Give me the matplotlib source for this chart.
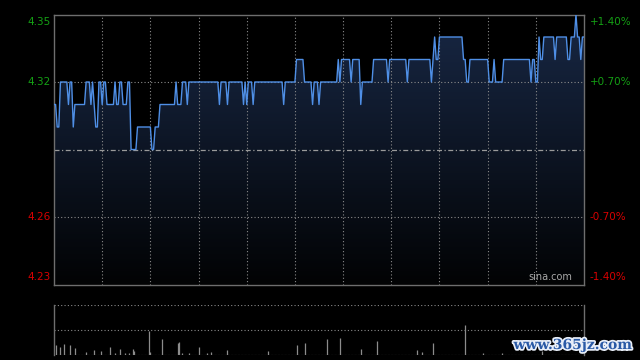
import numpy as np
import matplotlib
matplotlib.use("Agg")
import matplotlib.pyplot as plt
import matplotlib.patheffects as pe
from matplotlib.patches import Polygon

# %% data (minute index of each price change, price)
prev_close = 4.29
run_start = [
    0, 2, 4, 9, 10, 12, 13, 20, 23, 24, 25, 26, 28, 30, 31, 33, 38, 39, 41, 43,
    46, 48, 52, 61, 63, 66, 76, 77, 80, 83, 84, 103, 104, 108, 109, 118, 119,
    120, 121, 124, 125, 143, 144, 151, 156, 161, 162, 165, 166, 177, 178, 179,
    185, 186, 191, 192, 199, 208, 209, 220, 221, 235, 236, 237, 238, 240, 255,
    257, 259, 271, 274, 275, 280, 297, 298, 300, 302, 303, 305, 312, 313, 320,
    322, 325, 326, 328, 329,
]
run_price = [
    4.31, 4.30, 4.32, 4.31, 4.32, 4.30, 4.31, 4.32, 4.31, 4.32, 4.31, 4.30,
    4.32, 4.31, 4.32, 4.31, 4.32, 4.31, 4.32, 4.31, 4.32, 4.29, 4.30, 4.29,
    4.30, 4.31, 4.32, 4.31, 4.32, 4.31, 4.32, 4.31, 4.32, 4.31, 4.32, 4.31,
    4.32, 4.31, 4.32, 4.31, 4.32, 4.31, 4.32, 4.33, 4.32, 4.31, 4.32, 4.31,
    4.32, 4.33, 4.32, 4.33, 4.32, 4.33, 4.31, 4.32, 4.33, 4.32, 4.33, 4.32,
    4.33, 4.32, 4.33, 4.34, 4.33, 4.34, 4.33, 4.32, 4.33, 4.32, 4.33, 4.32,
    4.33, 4.32, 4.33, 4.32, 4.34, 4.33, 4.34, 4.33, 4.34, 4.33, 4.34, 4.35,
    4.34, 4.33, 4.34,
]
n_minutes = 331  # HK session 9:30-12:00 + 13:00-16:00

vol_minute = [1, 4, 6, 10, 13, 20, 25, 29, 35, 38, 41, 44, 47, 49, 50, 59, 60,
              67, 77, 78, 80, 84, 90, 95, 98, 108, 133, 151, 156, 170, 178, 191,
              201, 226, 229, 236, 256, 267, 279, 304]
vol_value = [10, 8, 11, 10, 7, 3, 5, 4, 8, 2, 6, 2, 2, 6, 4, 24, 3,
             16, 12, 13, 2, 2, 8, 2, 3, 5, 4, 10, 12, 16, 17, 6,
             14, 5, 3, 12, 30, 2, 2, 4]

left_ticks = [4.35, 4.32, 4.26, 4.23]

# %% build the series
lengths = np.diff(run_start + [n_minutes])
price = np.repeat(run_price, lengths)
t = np.arange(n_minutes)

GREEN = "#14a014"
RED = "#d80000"
GRID = "#8a8a8a"
LINE = "#4f8fe6"

fig = plt.figure(figsize=(6.4, 3.6), dpi=100, facecolor="black")
ax = fig.add_axes([54 / 640, 1 - 284.5 / 360, 530 / 640, 270 / 360])
axv = fig.add_axes([54 / 640, 1 - 355 / 360, 530 / 640, 50.3 / 360])

ymin, ymax = 4.23, 4.35
ax.set_facecolor("black")
ax.set_xlim(0, n_minutes - 1)
ax.set_ylim(ymin, ymax)

# gradient fill under the price line
grad = np.linspace(0, 1, 256).reshape(-1, 1)
cmap = matplotlib.colors.LinearSegmentedColormap.from_list(
    "fill", ["#020304", "#172642"])
im = ax.imshow(grad, cmap=cmap, aspect="auto", origin="lower",
               extent=[0, n_minutes - 1, ymin, 4.345], zorder=1)
poly = Polygon(np.column_stack([np.r_[t, t[-1], 0], np.r_[price, ymin, ymin]]),
               closed=True, facecolor="none", edgecolor="none")
ax.add_patch(poly)
im.set_clip_path(poly)

ax.plot(t, price, color=LINE, lw=1.0, zorder=3)

# grid
for x in range(30, n_minutes - 1, 30):
    ax.axvline(x, color=GRID, lw=0.8, ls=(0, (1, 2)), zorder=2)
for y in [4.32, 4.26]:
    ax.axhline(y, color=GRID, lw=0.8, ls=(0, (1, 2)), zorder=2)
ax.axhline(prev_close, color="#9a9a9a", lw=0.9, ls=(0, (4, 2, 1, 2)), zorder=2)

for s in ax.spines.values():
    s.set_color("#6e6e6e")
    s.set_linewidth(1)
ax.set_xticks([])
ax.set_yticks([])

# price / percent labels
for v in left_ticks:
    c = GREEN if v > prev_close else RED
    va = "center"
    off = 0
    if v == ymax:
        va, off = "top", -0.0012
    elif v == ymin:
        va, off = "bottom", 0.001
    ax.text(-0.006, v + off, f"{v:.2f}", transform=ax.get_yaxis_transform(),
            ha="right", va=va, color=c, fontsize=7.5)
    pct = (v - prev_close) / prev_close * 100
    ax.text(1.011, v + off, f"{pct:+.2f}%", transform=ax.get_yaxis_transform(),
            ha="left", va=va, color=c, fontsize=7.5)

ax.text(0.978, 0.008, "sina.com", transform=ax.transAxes, ha="right",
        va="bottom", color="#a8a8a8", fontsize=7)

# volume panel
axv.set_facecolor("black")
axv.set_xlim(0, n_minutes - 1)
axv.set_ylim(0, 50)
axv.vlines(vol_minute, 0, vol_value, color="#8c8c8c", lw=0.9)
axv.axhline(25, color=GRID, lw=0.8, ls=(0, (1, 2)))
axv.axhline(50, color=GRID, lw=0.8, ls=(0, (1, 2)))
for side in ["top", "bottom"]:
    axv.spines[side].set_visible(False)
for side in ["left", "right"]:
    axv.spines[side].set_color("#6e6e6e")
    axv.spines[side].set_linewidth(1)
axv.axhline(0, color="#6e6e6e", lw=0.8, ls=(0, (2, 1)))
axv.set_xticks([])
axv.set_yticks([])

fig.text(632 / 640, 1 - 345 / 360, "www.365jz.com", ha="right", va="center",
         color="#2a5aa6", fontsize=10, fontweight="bold", family="DejaVu Serif",
         path_effects=[pe.withStroke(linewidth=2.5, foreground="#e8eef8")])

fig.savefig("out.png", dpi=100, facecolor="black")
